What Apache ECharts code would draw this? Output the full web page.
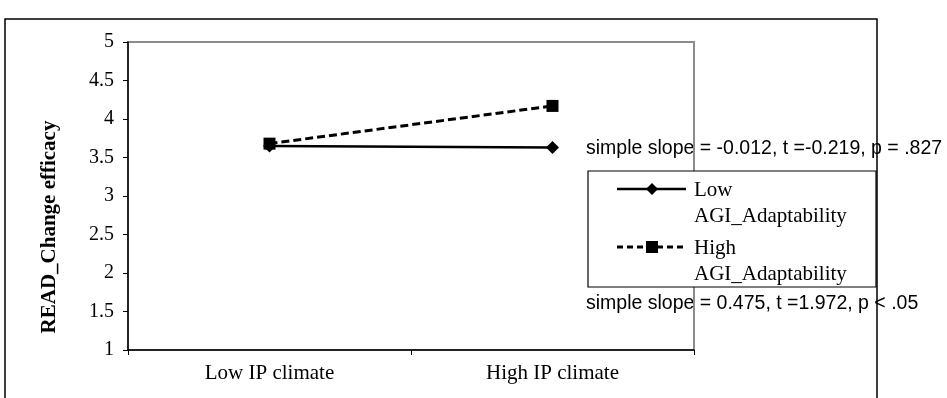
<!DOCTYPE html>
<html>
<head>
<meta charset="utf-8">
<script src="https://cdn.jsdelivr.net/npm/echarts@6/dist/echarts.min.js"></script>
<style>
  html, body { margin: 0; padding: 0; background: #fff; }
  #chart { width: 947px; height: 398px; }
</style>
</head>
<body>
<div id="chart"></div>
<script>
// data
const categories = ['Low IP climate', 'High IP climate'];
const seriesNames = ['Low', 'High'];
const lowAGI = [3.65, 3.63];
const highAGI = [3.68, 4.17];
const yTicks = [1, 1.5, 2, 2.5, 3, 3.5, 4, 4.5, 5];
const slopeNotes = [
  'simple slope = -0.012, t =-0.219, p = .827',
  'simple slope = 0.475, t =1.972, p < .05'
];

const serif = '"Liberation Serif", "Times New Roman", serif';
const sans = '"Liberation Sans", Arial, sans-serif';

const chart = echarts.init(document.getElementById('chart'));

const option = {
  backgroundColor: '#fff',
  animation: false,
  grid: {
    left: 128, top: 42, right: 253, bottom: 48,
    show: true,
    borderColor: '#8c8c8c',
    borderWidth: 2
  },
  xAxis: {
    type: 'category',
    data: categories,
    boundaryGap: true,
    axisLine: { lineStyle: { color: '#000', width: 1.5 } },
    axisTick: { show: true, length: 5, lineStyle: { color: '#000' } },
    axisLabel: { color: '#000', fontFamily: serif, fontSize: 21, margin: 13 }
  },
  yAxis: {
    type: 'value',
    min: 1, max: 5, interval: 0.5,
    name: 'READ_Change efficacy',
    nameLocation: 'middle',
    nameGap: 68,
    nameTextStyle: {
      color: '#000', fontFamily: serif, fontSize: 21, fontWeight: 'bold',
      padding: [0, 62, 0, 0]
    },
    axisLine: { show: true, lineStyle: { color: '#000', width: 1.5 } },
    axisTick: { show: true, length: 5, lineStyle: { color: '#000' } },
    splitLine: { show: false },
    axisLabel: {
      color: '#000', fontFamily: serif, fontSize: 20, margin: 14,
      formatter: v => (yTicks.indexOf(v) >= 0 ? String(v) : '')
    }
  },
  series: [
    {
      name: seriesNames[0],
      type: 'line',
      data: lowAGI,
      symbol: 'diamond',
      symbolSize: 13,
      itemStyle: { color: '#000' },
      lineStyle: { color: '#000', width: 2.5, type: 'solid' },
      z: 3
    },
    {
      name: seriesNames[1],
      type: 'line',
      data: highAGI,
      symbol: 'rect',
      symbolSize: 12,
      itemStyle: { color: '#000' },
      lineStyle: { color: '#000', width: 3, type: [8, 4] },
      z: 4
    }
  ],
  graphic: [
    // slope notes (sit under the plot border and frame, as in the original)
    {
      type: 'text', left: 586, top: 139, z: -1,
      style: { text: slopeNotes[0], font: '19.5px ' + sans, fill: '#000' }
    },
    {
      type: 'text', left: 586, top: 294, z: -1,
      style: { text: slopeNotes[1], font: '19.5px ' + sans, fill: '#000' }
    },
    // outer frame
    {
      type: 'rect', shape: { x: 5, y: 19, width: 872, height: 400 },
      style: { fill: null, stroke: '#000', lineWidth: 1.5 }, z: 1
    },
    // legend box
    {
      type: 'rect', shape: { x: 588, y: 171, width: 288, height: 116 },
      style: { fill: '#fff', stroke: '#000', lineWidth: 1.2 }, z: 10
    },
    {
      type: 'line', shape: { x1: 617, y1: 189, x2: 686, y2: 189 },
      style: { stroke: '#000', lineWidth: 2.5 }, z: 11
    },
    {
      type: 'polygon', shape: { points: [[652, 183], [658, 189], [652, 195], [646, 189]] },
      style: { fill: '#000' }, z: 11
    },
    {
      type: 'text', left: 694, top: 177, z: 11,
      style: { text: seriesNames[0] + '\nAGI_Adaptability', font: '21px ' + serif, lineHeight: 26, fill: '#000' }
    },
    {
      type: 'line', shape: { x1: 617, y1: 247, x2: 686, y2: 247 },
      style: { stroke: '#000', lineWidth: 3, lineDash: [6, 4] }, z: 11
    },
    {
      type: 'rect', shape: { x: 646, y: 241, width: 12, height: 12 },
      style: { fill: '#000' }, z: 11
    },
    {
      type: 'text', left: 694, top: 235, z: 11,
      style: { text: seriesNames[1] + '\nAGI_Adaptability', font: '21px ' + serif, lineHeight: 26, fill: '#000' }
    }
  ]
};

chart.setOption(option);
window.addEventListener('resize', () => chart.resize());
</script>
</body>
</html>
